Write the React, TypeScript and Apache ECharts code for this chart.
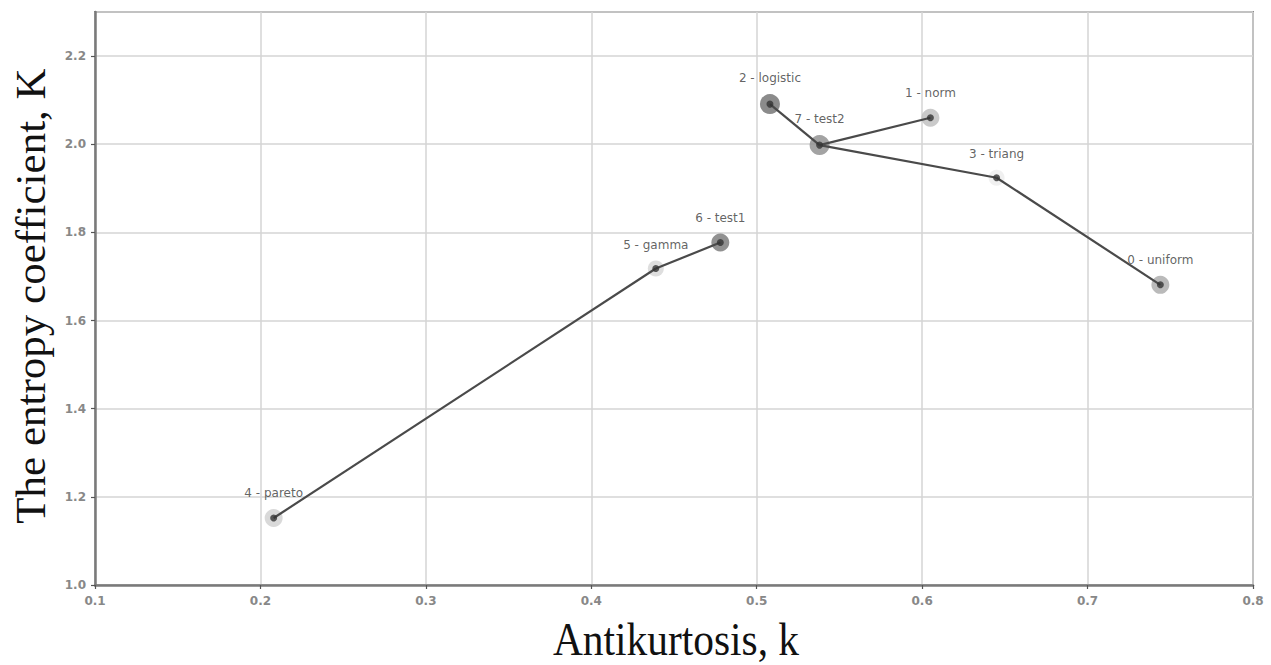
import React, { useEffect, useRef } from "react";
import * as echarts from "echarts";

// Data
const NAMES = ["uniform", "norm", "logistic", "triang", "pareto", "gamma", "test1", "test2"];
const K_SMALL = [0.744, 0.605, 0.508, 0.645, 0.208, 0.439, 0.478, 0.538]; // Antikurtosis, k
const K_BIG = [1.681, 2.06, 2.091, 1.924, 1.152, 1.718, 1.777, 1.998]; // Entropy coefficient, K
// Connections drawn between the points (index pairs)
const EDGES: [number, number][] = [
  [4, 5],
  [5, 6],
  [2, 7],
  [7, 1],
  [7, 3],
  [3, 0],
];
const X_TICKS = [0.1, 0.2, 0.3, 0.4, 0.5, 0.6, 0.7, 0.8];
const Y_TICKS = [1.0, 1.2, 1.4, 1.6, 1.8, 2.0, 2.2];

// Styles (halo shade and size per point)
const HALO_COLORS = ["#a9a9a9", "#bdbdbd", "#6e6e6e", "#ececec", "#d0d0d0", "#d6d6d6", "#767676", "#8c8c8c"];
const HALO_SIZES = [18, 18, 20, 16, 18, 16, 18, 20];

export default function App() {
  const ref = useRef<HTMLDivElement>(null);

  useEffect(() => {
    if (!ref.current) return;
    const chart = echarts.init(ref.current, undefined, { renderer: "svg" });

    const lineSeries = EDGES.map(([a, b]) => ({
      type: "line",
      data: [
        [K_SMALL[a], K_BIG[a]],
        [K_SMALL[b], K_BIG[b]],
      ],
      symbol: "none",
      lineStyle: { color: "#4a4a4a", width: 2.2 },
      z: 3,
      silent: true,
    }));

    const haloData = NAMES.map((n, i) => ({
      value: [K_SMALL[i], K_BIG[i]],
      name: `${i} - ${n}`,
      symbolSize: HALO_SIZES[i],
      itemStyle: { color: HALO_COLORS[i] },
    }));

    const dotData = NAMES.map((n, i) => [K_SMALL[i], K_BIG[i]]);

    const tickLabel = {
      fontFamily: "DejaVu Sans",
      fontSize: 12,
      fontWeight: "bold" as const,
      color: "#888",
    };

    chart.setOption({
      animation: false,
      backgroundColor: "#fff",
      grid: {
        left: 95,
        right: 18,
        top: 12,
        bottom: 80,
        show: true,
        borderColor: "#8a8a8a",
        borderWidth: 2,
        containLabel: false,
      },
      xAxis: {
        type: "value",
        min: X_TICKS[0],
        max: X_TICKS[X_TICKS.length - 1],
        interval: 0.1,
        axisLine: { show: true, lineStyle: { color: "#7a7a7a", width: 2.5 } },
        axisTick: { show: true, length: 4, lineStyle: { color: "#555", width: 1.2 } },
        axisLabel: {
          ...tickLabel,
          margin: 10,
          formatter: (v: number) => v.toFixed(1),
        },
        splitLine: { show: true, lineStyle: { color: "#d4d4d4", width: 1.5 } },
      },
      yAxis: {
        type: "value",
        min: Y_TICKS[0],
        max: 2.3,
        interval: 0.2,
        axisLine: { show: true, lineStyle: { color: "#7a7a7a", width: 2.5 } },
        axisTick: { show: true, length: 4, lineStyle: { color: "#555", width: 1.2 } },
        axisLabel: {
          ...tickLabel,
          margin: 9,
          showMaxLabel: false,
          formatter: (v: number) => v.toFixed(1),
        },
        splitLine: { show: true, lineStyle: { color: "#d4d4d4", width: 1.5 } },
      },
      graphic: [
        {
          type: "text",
          x: 676,
          y: 639,
          scaleX: 0.9,
          style: {
            text: "Antikurtosis, k",
            font: '46px "Liberation Serif"',
            fill: "#111",
            align: "center",
            verticalAlign: "middle",
          },
          z: 10,
        },
        {
          type: "text",
          x: 30,
          y: 296,
          rotation: Math.PI / 2,
          style: {
            text: "The entropy coefficient, K",
            font: '43px "Liberation Serif"',
            fill: "#111",
            align: "center",
            verticalAlign: "middle",
          },
          z: 10,
        },
      ],
      series: [
        {
          type: "scatter",
          data: haloData,
          z: 2,
          label: {
            show: true,
            position: "top",
            distance: 10,
            formatter: (p: any) => p.name,
            fontFamily: "DejaVu Sans",
            fontSize: 12,
            color: "#3a3a3a",
          },
          silent: true,
        },
        ...lineSeries,
        {
          type: "scatter",
          data: dotData,
          symbolSize: 7,
          itemStyle: { color: "#333" },
          z: 4,
          silent: true,
        },
      ],
    });

    return () => chart.dispose();
  }, []);

  return (
    <div
      ref={ref}
      style={{ position: "absolute", left: 0, top: 0, width: 1271, height: 665 }}
    />
  );
}
